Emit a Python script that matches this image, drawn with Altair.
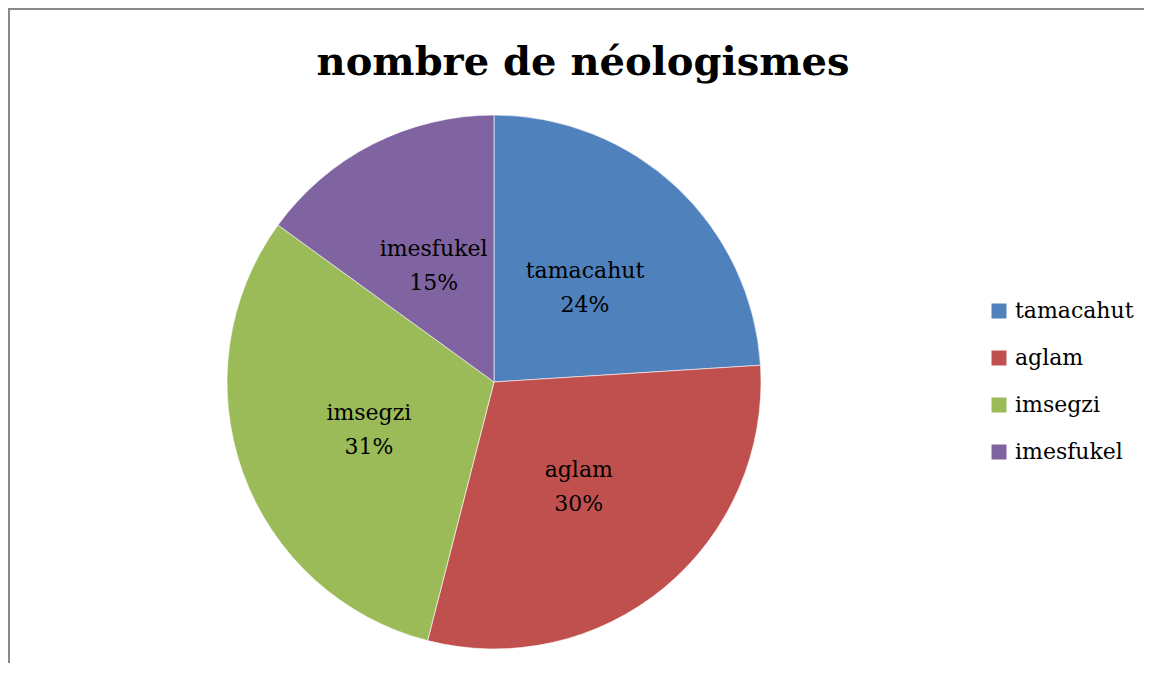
import altair as alt
import pandas as pd

categories = ["tamacahut", "aglam", "imsegzi", "imesfukel"]
values = [24, 30, 31, 15]
colors = ["#4F81BD", "#C0504D", "#9BBB59", "#8064A2"]
title_text = "nombre de néologismes"

df = pd.DataFrame({"cat": categories, "val": values, "order": list(range(len(categories)))})
df["label"] = [f"{c}\n{v}%" for c, v in zip(categories, values)]

W, H = 1136, 655
CX, CY, R = 486, 374, 267
FONT = "DejaVu Serif"

color = alt.Color(
    "cat:N",
    scale=alt.Scale(domain=categories, range=colors),
    legend=alt.Legend(
        orient="none", legendX=980, legendY=292, title=None, padding=0,
        symbolType="square", symbolSize=225, symbolStrokeWidth=0,
        labelFont=FONT, labelFontSize=22, labelColor="#000000", labelOffset=5,
        rowPadding=25, labelLimit=300,
    ),
)

base = alt.Chart(df).encode(
    theta=alt.Theta("val:Q", stack=True),
    order=alt.Order("order:Q"),
)

pie = base.mark_arc(outerRadius=R, stroke="white", strokeWidth=0.6).encode(
    color=color, x=alt.value(CX), y=alt.value(CY)
)

labels = base.mark_text(
    radius=133, font=FONT, fontSize=22, lineBreak="\n", lineHeight=34,
    color="#000000", align="center", baseline="middle", dy=-14,
).encode(text="label:N", x=alt.value(CX), y=alt.value(CY))

one = pd.DataFrame({"t": [title_text]})
title = alt.Chart(one).mark_text(
    font=FONT, fontWeight="bold", fontSize=40, baseline="alphabetic", align="center", color="#000000"
).encode(text="t:N", x=alt.value(575), y=alt.value(67))

frame_left = alt.Chart(one).mark_rule(color="#888888", strokeWidth=2).encode(
    x=alt.value(1), y=alt.value(0), y2=alt.value(H)
)
frame_top = alt.Chart(one).mark_rule(color="#888888", strokeWidth=2).encode(
    x=alt.value(0), x2=alt.value(W), y=alt.value(1)
)

chart = alt.layer(frame_left, frame_top, pie, labels, title).properties(
    width=W, height=H, autosize=alt.AutoSizeParams(type="none"), padding=0
).configure_view(stroke=None)

chart.save("out.html", embed_options={"renderer": "svg", "actions": False})
